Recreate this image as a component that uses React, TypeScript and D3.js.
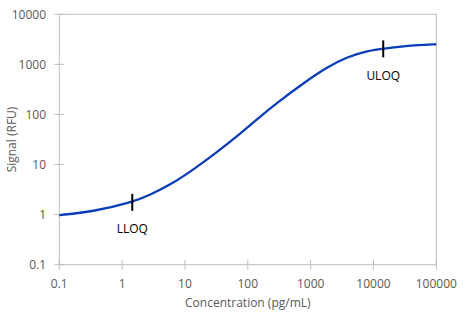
import React from "react";
import * as d3 from "d3";

const concentration = [0.1, 0.335, 1.45, 2.78, 5.78, 13.6, 32, 66.5, 139, 306, 764, 1800, 3750, 7820, 14350, 48700, 100000];
const signal = [0.98, 1.14, 1.76, 2.47, 3.9, 7.9, 17.5, 36, 80, 180, 419, 870, 1400, 1850, 2060, 2440, 2520];
const xTicks = [0.1, 1, 10, 100, 1000, 10000, 100000];
const xTickLabels = ["0.1", "1", "10", "100", "1000", "10000", "100000"];
const yTicks = [0.1, 1, 10, 100, 1000, 10000];
const yTickLabels = ["0.1", "1", "10", "100", "1000", "10000"];
const markerNames = ["LLOQ", "ULOQ"];
const markerX = [1.45, 14300];
const markerY = [1.76, 2040];

const W = 467;
const H = 325;
const L = 59.3, R = 436.3, T = 14.3, B = 264.7;
const axisColor = "#BFBFBF";
const textColor = "#595959";
const font = "'Open Sans', sans-serif";

export default function App() {
  const x = d3.scaleLog().domain([0.1, 100000]).range([L, R]);
  const y = d3.scaleLog().domain([0.1, 10000]).range([B, T]);
  const pts: [number, number][] = concentration.map((c, i) => [c, signal[i]]);
  const line = d3
    .line<[number, number]>()
    .x((d) => x(d[0]))
    .y((d) => y(d[1]))
    .curve(d3.curveBasis);

  return (
    <div style={{ position: "absolute", left: 0, top: 0 }}>
      <svg width={W} height={H} style={{ display: "block", background: "#fff" }}>
        <line x1={L} x2={R} y1={T} y2={T} stroke={axisColor} strokeWidth={1} />
        <line x1={R} x2={R} y1={T} y2={B} stroke={axisColor} strokeWidth={1} />
        <line x1={L} x2={L} y1={T} y2={B} stroke={axisColor} strokeWidth={1} />
        <line x1={L} x2={R} y1={B} y2={B} stroke={axisColor} strokeWidth={1} />
        {yTicks.map((t, i) => (
          <g key={"y" + i}>
            <line x1={L - 5} x2={L + 5} y1={y(t)} y2={y(t)} stroke={axisColor} />
            <text
              x={46}
              y={y(t)}
              dy="0.35em"
              textAnchor="end"
              fontFamily={font}
              fontSize={12}
              fill={textColor}
            >
              {yTickLabels[i]}
            </text>
          </g>
        ))}
        {xTicks.map((t, i) => (
          <g key={"x" + i}>
            <line x1={x(t)} x2={x(t)} y1={B - 5} y2={B + 5} stroke={axisColor} />
            <text
              x={x(t)}
              y={288}
              textAnchor="middle"
              fontFamily={font}
              fontSize={12}
              fill={textColor}
            >
              {xTickLabels[i]}
            </text>
          </g>
        ))}
        <path d={line(pts) || ""} fill="none" stroke="#0A3DB8" strokeWidth={2.3} />
        {markerNames.map((n, i) => (
          <g key={n}>
            <line
              x1={x(markerX[i])}
              x2={x(markerX[i])}
              y1={y(markerY[i]) - 8.5}
              y2={y(markerY[i]) + 8.5}
              stroke="#000"
              strokeWidth={2}
            />
            <text
              x={x(markerX[i])}
              y={y(markerY[i]) + 31}
              textAnchor="middle"
              fontFamily={font}
              fontSize={12}
              fill="#000"
            >
              {n}
            </text>
          </g>
        ))}
        <text
          x={(L + R) / 2}
          y={307}
          textAnchor="middle"
          fontFamily={font}
          fontSize={12}
          fill={textColor}
        >
          Concentration (pg/mL)
        </text>
        <text
          transform={`translate(16,${(T + B) / 2}) rotate(-90)`}
          textAnchor="middle"
          fontFamily={font}
          fontSize={12}
          fill={textColor}
        >
          Signal (RFU)
        </text>
      </svg>
    </div>
  );
}
